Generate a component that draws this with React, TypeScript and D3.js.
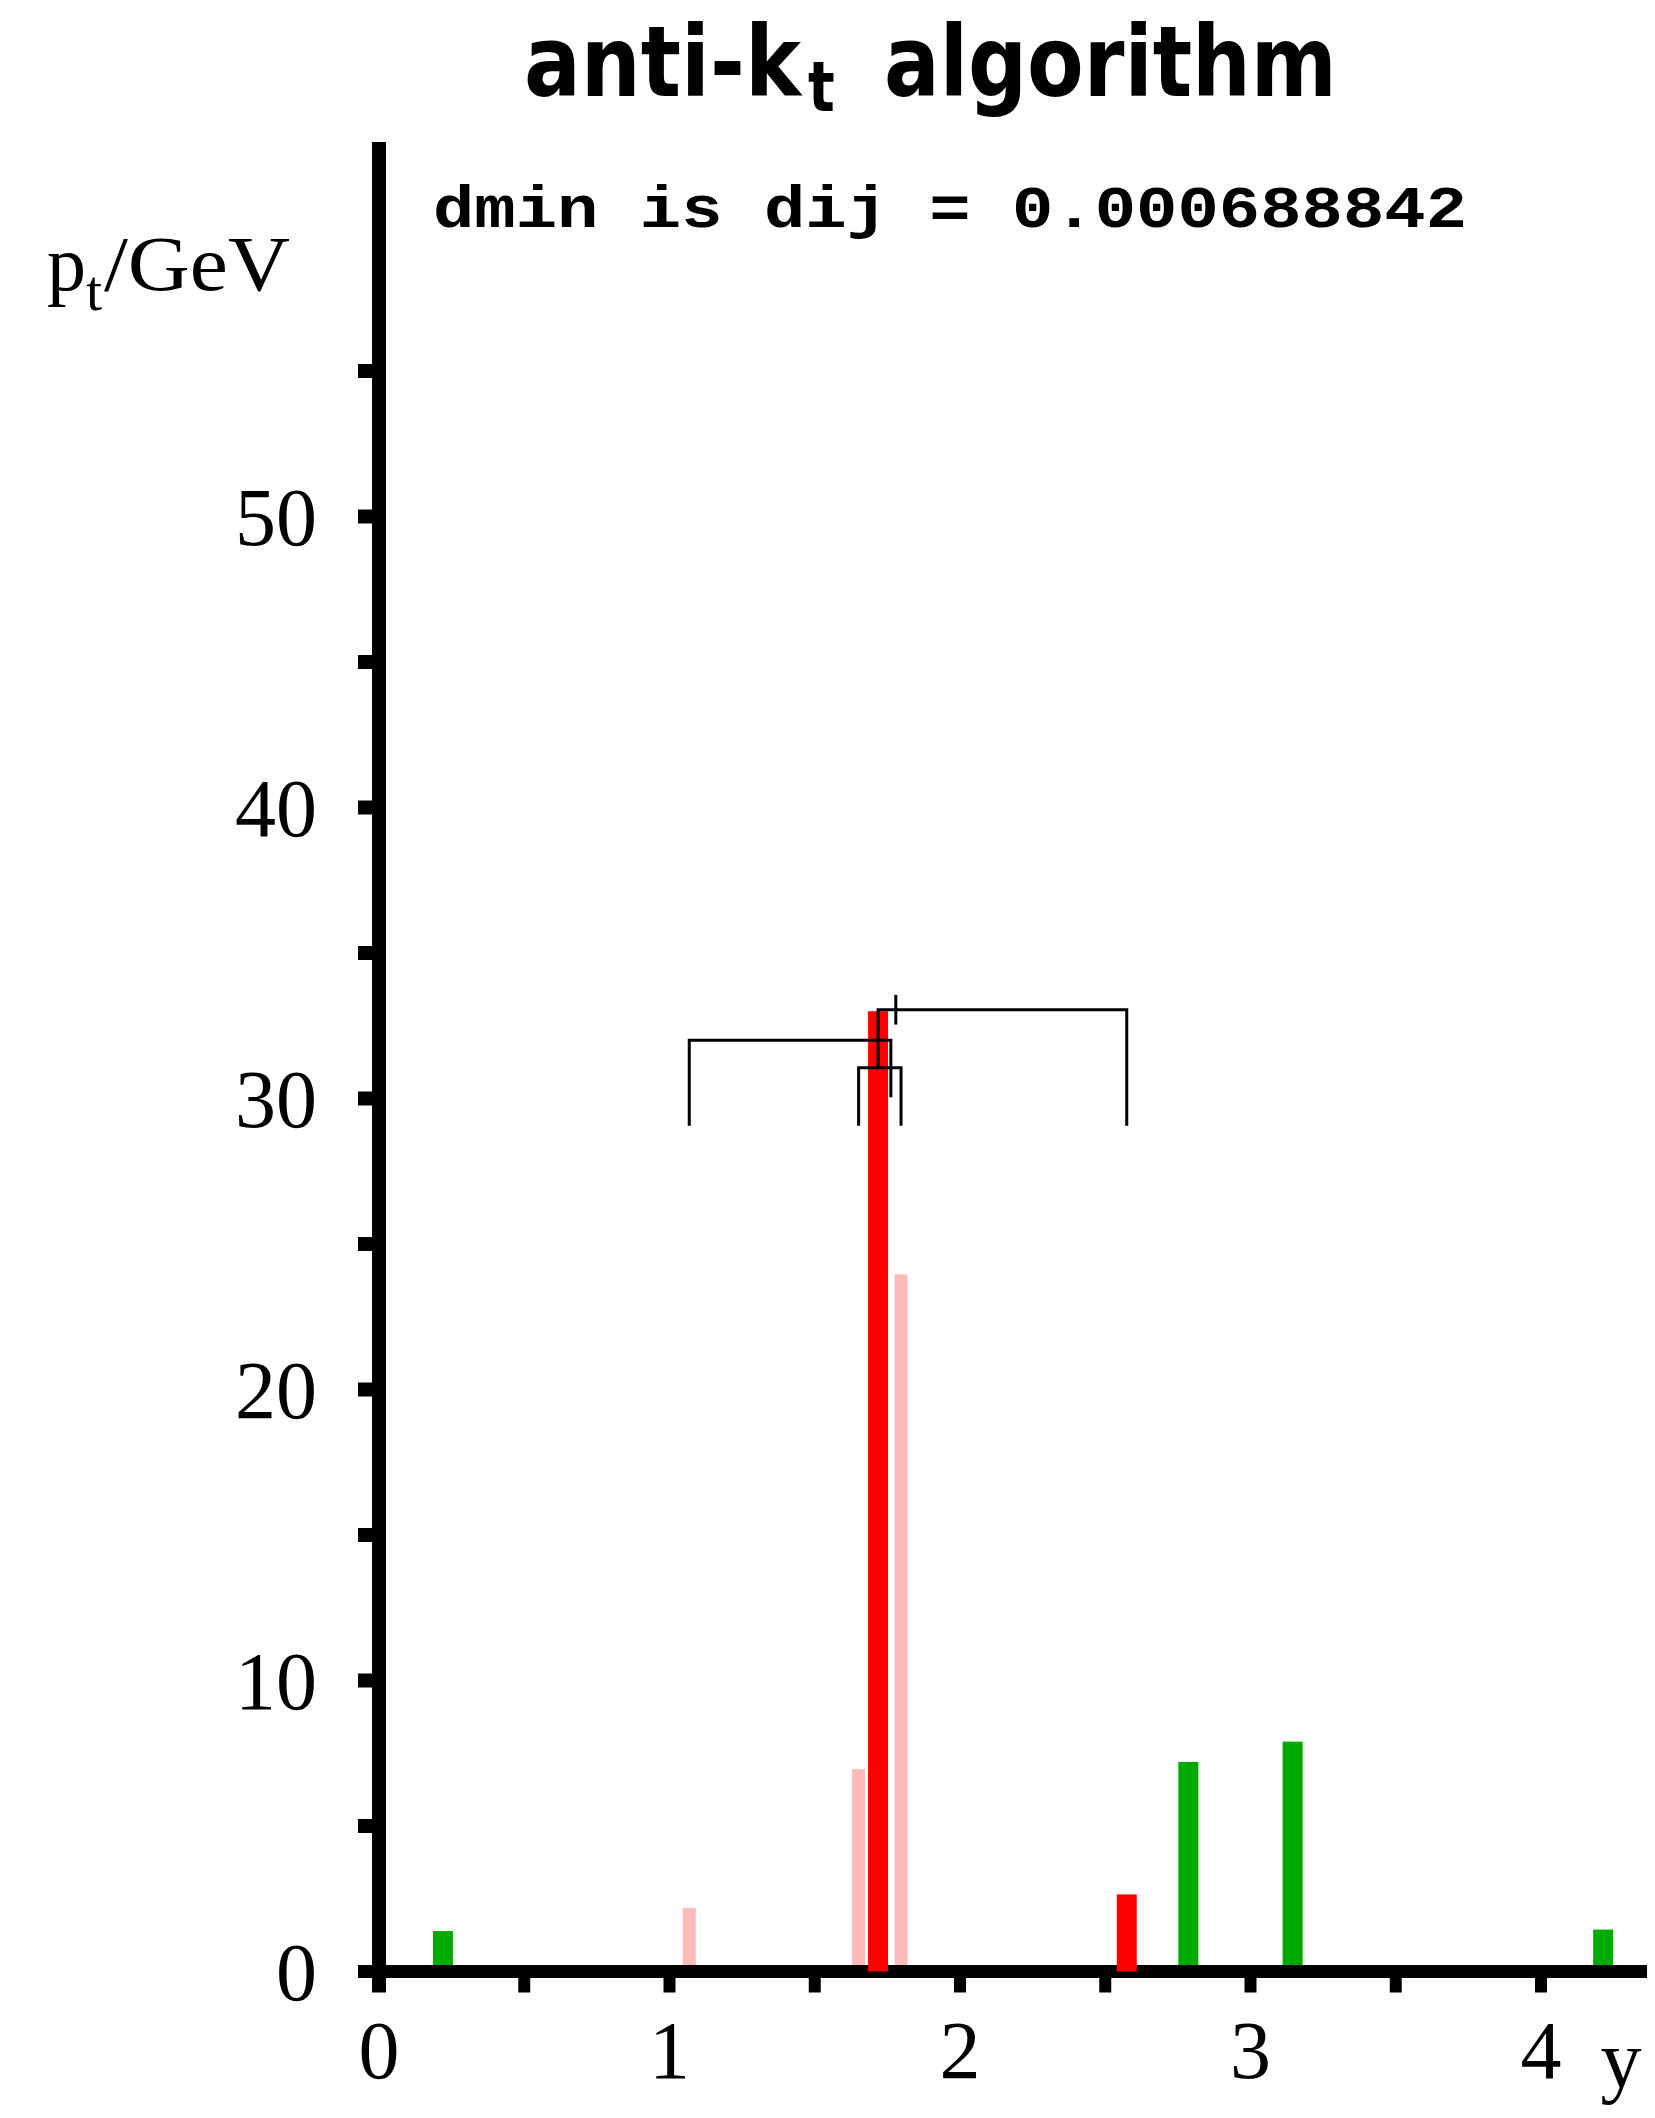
import React from "react";
import * as d3 from "d3";

// particles: rapidity, transverse momentum, colour class
const rapidity = [0.22, 1.068, 1.651, 1.718, 1.797, 2.574, 2.786, 3.145, 4.214];
const ptGeV = [1.39, 2.18, 6.96, 33.0, 23.96, 2.65, 7.2, 7.9, 1.44];
const kind = ["green", "pink", "pink", "red", "pink", "red", "green", "green", "green"];

// clustering brackets
const bracketLeft = [1.068, 1.651, 1.718];
const bracketRight = [1.762, 1.797, 2.574];
const bracketTop = [32.0, 31.06, 33.05];
const bracketLeftFoot = [29.06, 29.06, 31.06];
const bracketRightFoot = [30.04, 29.06, 29.06];
const markerY = 1.779;
const markerPt = [32.54, 33.56];

const yTicks = d3.range(5, 60, 5);
const yLabels = [0, 10, 20, 30, 40, 50];
const xTicks = d3.range(0, 4.5, 0.5);
const xLabels = [0, 1, 2, 3, 4];

const colors: Record<string, string> = { green: "#00aa00", pink: "#ffbaba", red: "#ff0000" };
const barWidth: Record<string, number> = { green: 20, pink: 13, red: 20 };

const W = 1655;
const H = 2118;

export default function App() {
  const x = d3.scaleLinear().domain([0, 4]).range([379, 1541]);
  const y = d3.scaleLinear().domain([0, 50]).range([1971.5, 516.5]);
  const axisW = 14;
  const tickLen = 14;
  const serif = "'Liberation Serif', 'Times New Roman', serif";

  const bars = rapidity.map((r, i) => ({ r, p: ptGeV[i], k: kind[i] }));
  const under = bars.filter((d) => d.k !== "red");
  const over = bars.filter((d) => d.k === "red");

  const bar = (d: { r: number; p: number; k: string }, i: number) => (
    <rect
      key={i}
      x={x(d.r) - barWidth[d.k] / 2}
      y={y(d.p)}
      width={barWidth[d.k]}
      height={y(0) - y(d.p)}
      fill={colors[d.k]}
    />
  );

  const bracketPath = bracketLeft.map((l, i) => {
    const p = d3.path();
    p.moveTo(x(l), y(bracketLeftFoot[i]));
    p.lineTo(x(l), y(bracketTop[i]));
    p.lineTo(x(bracketRight[i]), y(bracketTop[i]));
    p.lineTo(x(bracketRight[i]), y(bracketRightFoot[i]));
    return p.toString();
  });

  return (
    <svg
      width={W}
      height={H}
      style={{ position: "absolute", left: 0, top: 0, background: "#fff" }}
    >
      {/* title, DejaVu Sans Bold squeezed horizontally */}
      <g fontFamily="'DejaVu Sans', sans-serif" fontWeight="bold">
        <text transform="translate(524,96) scale(0.86,1)" fontSize={98}>
          anti-k
        </text>
        <text transform="translate(808,111) scale(0.8,1)" fontSize={70}>
          t
        </text>
        <text transform="translate(884,96) scale(0.842,1)" fontSize={98}>
          algorithm
        </text>
      </g>

      <text
        x={433}
        y={227}
        fontSize={60}
        fontFamily="'Liberation Mono', 'DejaVu Sans Mono', monospace"
        fontWeight="bold"
        textLength={1034}
        lengthAdjust="spacingAndGlyphs"
      >
        dmin is dij = 0.000688842
      </text>

      {/* y axis label */}
      <text fontFamily={serif} fontSize={78}>
        <tspan x={47} y={290}>p</tspan>
        <tspan x={86} y={310} fontSize={58}>t</tspan>
        <tspan x={104} y={290} textLength={186} lengthAdjust="spacingAndGlyphs">
          /GeV
        </tspan>
      </text>

      {/* bars behind the axis */}
      {under.map(bar)}

      {/* axes */}
      <line x1={x(0)} x2={x(0)} y1={142} y2={y(0)} stroke="#000" strokeWidth={axisW} />
      <line x1={358} x2={x(4.365)} y1={y(0)} y2={y(0)} stroke="#000" strokeWidth={axisW - 1} />
      {yTicks.map((t) => (
        <line
          key={t}
          x1={x(0) - axisW / 2 - tickLen}
          x2={x(0)}
          y1={y(t)}
          y2={y(t)}
          stroke="#000"
          strokeWidth={14}
        />
      ))}
      {xTicks.map((t) => (
        <line
          key={t}
          x1={x(t)}
          x2={x(t)}
          y1={y(0)}
          y2={y(0) + axisW / 2 + tickLen}
          stroke="#000"
          strokeWidth={t === 0 ? axisW : 12}
        />
      ))}
      <g fontFamily={serif} fontSize={82} fill="#000">
        {yLabels.map((t) => (
          <text key={t} x={317} y={y(t) + 28} textAnchor="end">
            {t}
          </text>
        ))}
        {xLabels.map((t) => (
          <text key={t} x={x(t)} y={2078} textAnchor="middle">
            {t}
          </text>
        ))}
        <text x={1621} y={2087} textAnchor="middle">
          y
        </text>
      </g>

      {/* red bars on top of the axis */}
      {over.map(bar)}

      {/* clustering brackets */}
      {bracketPath.map((d, i) => (
        <path key={i} d={d} fill="none" stroke="#000" strokeWidth={3} />
      ))}
      <line
        x1={x(markerY)}
        x2={x(markerY)}
        y1={y(markerPt[0])}
        y2={y(markerPt[1])}
        stroke="#000"
        strokeWidth={3}
      />
    </svg>
  );
}
